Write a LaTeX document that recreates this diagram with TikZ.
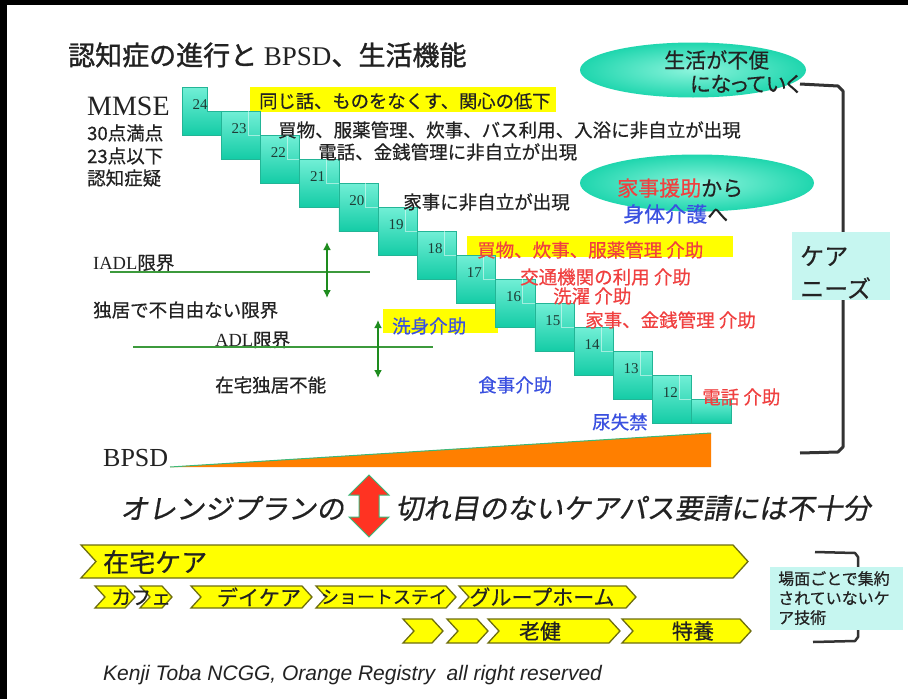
\documentclass[tikz,border=0pt]{standalone}
\usepackage{fontspec}
\setmainfont{Liberation Serif}
\setsansfont{Liberation Sans}
\newfontfamily\jp{Noto Sans CJK JP}[FakeBold=0.5]
\newfontfamily\jpb{Noto Sans CJK JP}[FakeBold=1.2]
\newfontfamily\jpit{Noto Sans CJK JP}[FakeSlant=0.18,FakeBold=0.6]
\newfontfamily\jpp{Noto Sans CJK JP}[RawFeature=+palt,FakeBold=0.5]
\usetikzlibrary{shapes.geometric,arrows.meta}
\newcommand\fsz[1]{\fontsize{#1}{#1}\selectfont}
\definecolor{stTop}{HTML}{72EFD6}
\definecolor{stBot}{HTML}{14CCA6}
\definecolor{stEdge}{HTML}{22B596}
\definecolor{hl}{HTML}{FFFF00}
\definecolor{redt}{HTML}{F04040}
\definecolor{bluet}{HTML}{3A50E0}
\definecolor{gline}{HTML}{3C9A3C}
\definecolor{garr}{HTML}{1E8C1E}
\definecolor{orng}{HTML}{FF7F00}
\definecolor{ellC}{HTML}{1FD6AE}
\definecolor{ellL}{HTML}{8CF4DC}
\definecolor{cbox}{HTML}{C6F6F0}
\definecolor{brk}{HTML}{333333}
\definecolor{chevEdge}{HTML}{6E6E10}
\definecolor{txt}{HTML}{222222}
\definecolor{numc}{HTML}{1E3C36}
\definecolor{rarr}{HTML}{FF3322}
\definecolor{rarrE}{HTML}{3CB878}
\newcommand\chevron[5]{\filldraw[chev] (#1,#3) -- ({#2-#5},#3) -- (#2,{(#3+#4)/2}) -- ({#2-#5},#4) -- (#1,#4) -- ({#1+#5},{(#3+#4)/2}) -- cycle;}
\begin{document}
\begin{tikzpicture}[x=1pt,y=-1pt]
\tikzset{
 lbl/.style={anchor=west, inner sep=0pt, text=txt, font=\jp\fsz{18.5}},
 rlbl/.style={lbl, text=redt},
 blbl/.style={lbl, text=bluet},
 num/.style={inner sep=0pt, text=numc, font=\rmfamily\fsz{15}},
 gl/.style={draw=gline, line width=2pt},
 garrow/.style={draw=garr, line width=2.4pt, {Latex[length=8pt,width=8pt]}-{Latex[length=8pt,width=8pt]}},
 stepfill/.style={top color=stTop, bottom color=stBot, draw=stEdge, line width=0.5pt},
 chev/.style={fill=hl, draw=chevEdge, line width=1.3pt, line join=miter},
 chtxt/.style={inner sep=0pt, text=txt, font=\jp\fsz{21}},
}
\useasboundingbox (0,0) rectangle (908,699);
\fill[white] (0,0) rectangle (908,699);
\fill[black] (0,0) rectangle (908,5);
\fill[black] (0,0) rectangle (7,699);

% title
\node[anchor=west, inner sep=0pt, text=txt] (title) at (68,55) {\jpb\fsz{27}認知症の進行と\rmfamily\ BPSD\jpb 、生活機能};

% MMSE block
\node[anchor=west, inner sep=0pt, text=txt, font=\rmfamily\fsz{28}] (mmse) at (87,106) {MMSE};
\node[lbl] (m30) at (87,133) {30点満点};
\node[lbl] (m23) at (87,156) {23点以下};
\node[lbl] (mgi) at (87,178) {認知症疑};

% yellow highlight boxes
\fill[hl] (250,87) rectangle (556,112);
\fill[hl] (467,236) rectangle (733,257);
\fill[hl] (383,309) rectangle (498,333);

% staircase
\shade[stepfill] (182,87) -- (207,87) -- (207,111) -- (221.2,111) -- (221.2,135) -- (182,135) -- cycle;
\node[num] (s24) at (200,105) {24};
\foreach \i in {1,...,12}{
  \pgfmathtruncatemacro\n{24-\i}
  \pgfmathsetmacro\L{182+39.2*\i}
  \pgfmathsetmacro\T{87+24*\i}
  \shade[stepfill] (\L,\T) rectangle ++(39.2,48);
  \draw[white, opacity=0.5, line width=0.8pt] (\L+27,\T) -- (\L+27,\T+24) -- (\L+39.2,\T+24);
  \node[num] (s\n) at (\L+18,\T+18) {\n};
}
\shade[stepfill] (691.6,399) rectangle ++(39.2,24);

% texts beside staircase
\node[lbl, font=\jp\fsz{18.3}] (t1) at (259,101) {同じ話、ものをなくす、関心の低下};
\node[lbl] (t2) at (278,130) {買物、服薬管理、炊事、バス利用、入浴に非自立が出現};
\node[lbl] (t3) at (318,152) {電話、金銭管理に非自立が出現};
\node[lbl] (t4) at (403,202) {家事に非自立が出現};
\node[rlbl] (t5) at (477,250) {買物、炊事、服薬管理 介助};
\node[rlbl] (t6) at (520,277) {交通機関の利用 介助};
\node[rlbl] (t7) at (553,296) {洗濯 介助};
\node[rlbl] (t8) at (585,320) {家事、金銭管理 介助};
\node[blbl] (t9) at (392,326) {洗身介助};
\node[blbl] (t10) at (478,385) {食事介助};
\node[blbl] (t11) at (592,422) {尿失禁};
\node[rlbl] (t12) at (702,397) {電話 介助};

% IADL / ADL
\node[lbl, font=\rmfamily\fsz{18.5}] (iadl) at (93,263) {IADL\jp 限界};
\draw[gl] (110,272) -- (370,272);
\coordinate (a1t) at (327,242);
\coordinate (a1b) at (327,298);
\draw[garrow] (a1t) -- (a1b);
\node[lbl] (dk) at (93,310) {独居で不自由ない限界};
\node[lbl, font=\rmfamily\fsz{18.5}] (adl) at (215,340) {ADL\jp 限界};
\draw[gl] (133,347) -- (433,347);
\coordinate (a2t) at (378,320);
\coordinate (a2b) at (378,378);
\draw[garrow] (a2t) -- (a2b);
\node[lbl] (zt) at (215,385) {在宅独居不能};

% bracket right
\draw[brk, line width=3pt, line join=round] (800,84) -- (838,86) -- (843,91) -- (843,447) -- (838,452) -- (800,453);
\node[fill=cbox, minimum width=98pt, minimum height=68pt, anchor=north west, inner sep=0pt] (care) at (792,232) {};
\node[lbl, font=\jp\fsz{24}] (care1) at (800,256) {ケア};
\node[lbl, font=\jp\fsz{24}] (care2) at (800,288) {ニーズ};

% ellipses
\node[ellipse, minimum width=226pt, minimum height=55pt, inner color=ellL, outer color=ellC] (e1) at (693,70) {};
\node[lbl, font=\jp\fsz{21}] (e1a) at (664,60) {生活が不便};
\node[lbl, font=\jpp\fsz{21}] (e1b) at (690,84) {になっていく};
\node[ellipse, minimum width=234pt, minimum height=57pt, inner color=ellL, outer color=ellC] (e2) at (697,183) {};
\node[lbl, font=\jp\fsz{21}] (e2a) at (617,188) {\textcolor{redt}{家事援助}から};
\node[lbl, font=\jp\fsz{21}] (e2b) at (623,214) {\textcolor{bluet}{身体介護}へ};

% BPSD
\node[anchor=west, inner sep=0pt, text=txt, font=\rmfamily\fsz{26}] (bpsd) at (103,458) {BPSD};
\fill[orng] (170,467) -- (711,433) -- (711,467) -- cycle;
\draw[rarrE, line width=1pt] (170,467) -- (711,433);

% red double arrow
\filldraw[fill=rarr, draw=rarrE, line width=1pt, line join=miter] (369,475) -- (389,495) -- (379,495) -- (379,517) -- (389,517) -- (369,537) -- (349,517) -- (359,517) -- (359,495) -- (349,495) -- cycle;
\node[anchor=west, inner sep=0pt, text=txt, font=\jpit\fsz{28}] (op) at (120,508) {オレンジプランの};
\node[anchor=west, inner sep=0pt, text=txt, font=\jpit\fsz{28}] (kr) at (395,508) {切れ目のないケアパス要請には不十分};

% chevrons
\chevron{81}{748}{545}{578}{15}
\node[anchor=west, chtxt, font=\jp\fsz{26}] (zc) at (103,562) {在宅ケア};
\chevron{95}{135}{586}{608}{10}
\chevron{140}{172}{586}{608}{10}
\node[anchor=west, chtxt, font=\jp\fsz{20}] (cafe) at (111,597) {カフェ};
\chevron{191}{312}{586}{608}{10}
\node[chtxt] (dc) at (259,597) {デイケア};
\chevron{316}{456}{586}{608}{10}
\node[chtxt, font=\jp\fsz{18}] (ss) at (384,597) {ショートステイ};
\chevron{459}{636}{586}{608}{10}
\node[chtxt] (gh) at (542,597) {グループホーム};
\chevron{403}{443}{619}{643}{11}
\chevron{447}{488}{619}{643}{11}
\chevron{488}{620}{619}{643}{11}
\node[chtxt] (rk) at (540,631) {老健};
\chevron{622}{751}{619}{643}{11}
\node[chtxt] (ty) at (693,631) {特養};

% bottom right bracket and box
\draw[brk, line width=2.5pt, line join=round] (815,552) -- (855,553) -- (858,557) -- (858,637) -- (855,641) -- (813,642);
\node[fill=cbox, minimum width=133pt, minimum height=63pt, anchor=north west, inner sep=0pt] (sbox) at (770,567) {};
\node[anchor=north west, inner sep=0pt, text=txt, font=\jp\fsz{16}, align=left] (stxt) at (778,571) {場面ごとで集約\\[3.5pt]されていないケ\\[3.5pt]ア技術};

% credit
\node[anchor=west, inner sep=0pt, text=txt, font=\sffamily\itshape\fsz{21}] (credit) at (103,675) {Kenji Toba NCGG, Orange Registry\ \ all right reserved};
\end{tikzpicture}
\end{document}
